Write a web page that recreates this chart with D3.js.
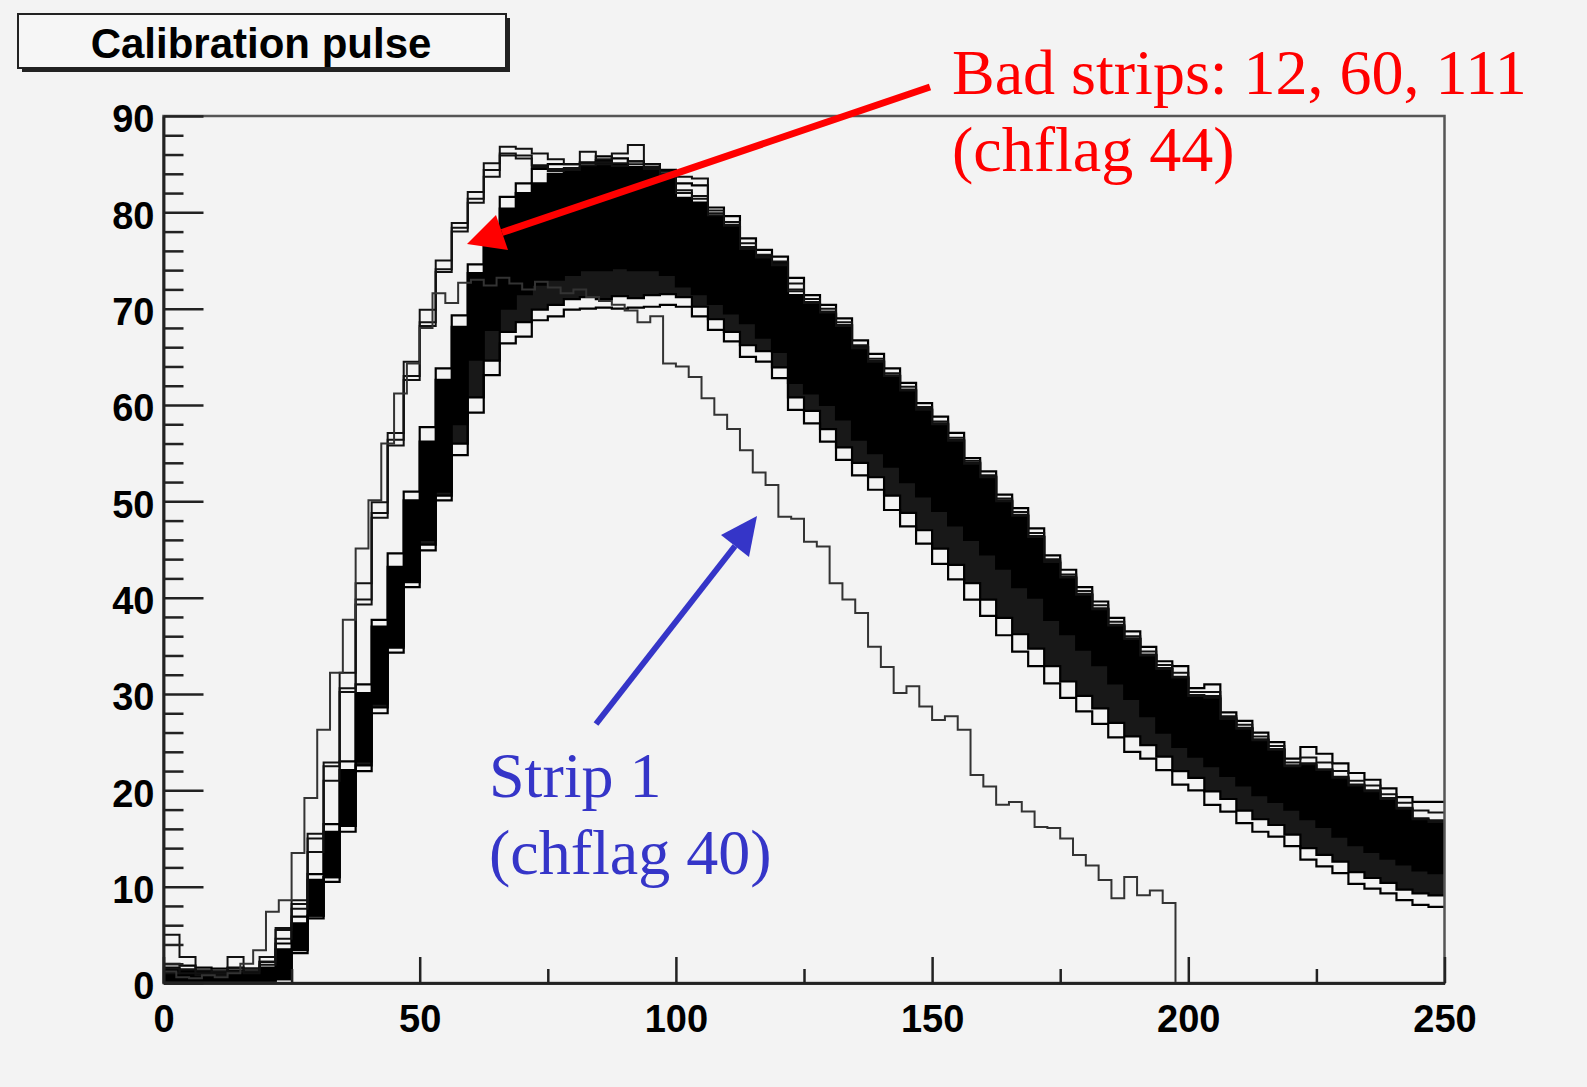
<!DOCTYPE html>
<html>
<head>
<meta charset="utf-8">
<script src="https://cdn.jsdelivr.net/npm/d3@7"></script>
<style>
  body { margin: 0; background: #f3f3f3; }
  svg { display: block; }
</style>
</head>
<body>
<script>
const width = 1587, height = 1087;

// 80 bins of 3.125 ns cover 0-250; strip 1 is read out on 80 bins of 2.5 ns
const binWidth = 3.125;
const strip1BinWidth = 2.5;

// envelope of the ~125 normal strips, read bin by bin
const bandTop = [2.0, 1.8, 1.6, 1.5, 1.6, 1.5, 2.2, 4.1, 6.9, 11.3,
  16.5, 23.0, 31.0, 37.7, 44.6, 51.0, 57.7, 63.8, 69.3, 74.6,
  77.5, 81.6, 83.0, 84.5, 85.0, 85.0, 85.2, 85.8, 85.6, 85.3,
  85.0, 84.4, 83.0, 82.8, 80.5, 79.6, 77.3, 76.1, 75.4, 73.2,
  71.4, 70.4, 69.0, 66.7, 65.3, 63.8, 62.3, 60.2, 58.8, 57.1,
  54.5, 53.1, 50.7, 49.3, 47.2, 44.4, 42.9, 41.1, 39.6, 37.9,
  36.5, 34.9, 33.4, 32.9, 30.6, 31.0, 28.1, 27.2, 26.0, 25.0,
  23.3, 24.5, 23.8, 22.8, 21.8, 21.1, 20.2, 19.3, 18.8, 18.8];
const coreTop = [1.6, 1.4, 1.3, 1.2, 1.3, 1.2, 1.6, 3.5, 6.2, 10.7,
  15.7, 22.1, 30.1, 37.0, 43.2, 50.1, 56.2, 62.6, 68.1, 73.7,
  76.4, 80.4, 82.0, 83.0, 84.0, 84.4, 84.7, 85.4, 85.0, 84.7,
  84.7, 84.0, 81.5, 81.0, 79.6, 78.5, 76.1, 75.5, 74.8, 71.4,
  70.5, 69.5, 68.3, 66.0, 64.5, 63.0, 61.5, 59.5, 58.0, 56.3,
  54.0, 52.5, 50.0, 48.5, 46.3, 43.6, 42.0, 40.3, 38.8, 37.0,
  35.7, 34.0, 32.6, 31.6, 29.8, 29.5, 27.3, 26.4, 25.2, 24.2,
  22.5, 22.6, 22.0, 21.2, 20.4, 19.8, 19.0, 18.0, 16.9, 16.6];
const coreBottom = [0.3, 0.3, 0.3, 0.3, 0.3, 0.3, 0.4, 0.6, 3.5, 7.0,
  11.0, 16.3, 23.0, 29.0, 35.0, 41.8, 46.0, 51.0, 58.0, 64.7,
  67.8, 70.0, 71.5, 72.5, 73.0, 73.5, 74.0, 74.0, 74.2, 74.0,
  74.0, 73.5, 72.3, 71.5, 70.5, 69.5, 68.5, 67.0, 65.5, 62.3,
  61.2, 60.0, 58.5, 56.4, 55.0, 53.6, 52.0, 50.5, 49.0, 47.5,
  46.0, 44.5, 43.0, 41.1, 40.0, 37.7, 36.2, 34.6, 33.0, 31.1,
  29.5, 27.7, 26.0, 24.5, 23.5, 22.5, 21.5, 20.5, 19.5, 18.8,
  18.0, 17.0, 16.2, 15.2, 14.3, 13.6, 12.9, 12.3, 11.7, 11.4];
const lowerMid = [0.1, 0.1, 0.1, 0.1, 0.1, 0.1, 0.2, 0.4, 3.4, 7.0,
  11.0, 16.3, 22.6, 28.6, 34.8, 41.6, 45.5, 50.6, 56.0, 60.8,
  64.6, 67.6, 68.6, 69.9, 70.4, 71.0, 71.2, 71.0, 71.3, 71.1,
  71.4, 71.5, 71.2, 70.2, 68.9, 67.6, 66.2, 65.6, 63.9, 60.8,
  59.4, 57.5, 55.6, 54.0, 52.5, 50.6, 48.8, 47.0, 45.1, 43.4,
  41.5, 39.8, 37.9, 36.2, 34.7, 32.9, 31.3, 29.8, 28.5, 27.0,
  25.6, 24.7, 23.5, 22.0, 21.3, 19.9, 19.1, 17.9, 17.0, 16.4,
  15.4, 14.0, 13.3, 12.6, 11.5, 10.9, 10.4, 9.7, 9.3, 9.1];
const bandBottom = [0.1, 0.1, 0.1, 0.1, 0.1, 0.1, 0.2, 0.4, 3.1, 6.7,
  10.5, 15.7, 22.0, 28.0, 34.3, 41.1, 44.9, 50.1, 54.8, 59.2,
  63.1, 66.4, 67.1, 68.8, 69.2, 69.9, 70.0, 70.1, 70.0, 70.1,
  70.2, 70.4, 70.2, 69.2, 67.8, 66.6, 65.0, 64.5, 62.8, 59.5,
  58.1, 56.2, 54.3, 52.7, 51.2, 49.1, 47.4, 45.6, 43.5, 41.9,
  39.8, 38.1, 36.1, 34.4, 32.9, 31.1, 29.6, 28.2, 26.9, 25.5,
  24.0, 23.3, 22.1, 20.6, 20.0, 18.5, 17.8, 16.6, 15.7, 15.2,
  14.2, 12.8, 12.1, 11.4, 10.3, 9.8, 9.3, 8.6, 8.1, 7.9];

// bad strips 12, 60, 111 (chflag 44)
const bad12 = [5.0, 2.7, 1.3, 1.0, 2.7, 1.5, 2.2, 5.7, 8.6, 15.5,
  22.9, 32.2, 41.5, 49.9, 57.1, 64.5, 69.9, 75.0, 78.9, 82.1,
  85.1, 86.8, 86.6, 86.1, 85.5, 85.0, 86.3, 85.5, 86.1, 87.0,
  85.0, 84.2, 83.7, 83.5, 80.2, 79.0, 76.8, 75.6, 74.9, 72.6,
  71.0, 70.0, 68.6, 66.2, 64.8, 63.3, 61.9, 59.8, 58.3, 56.6,
  54.2, 52.7, 50.3, 48.9, 46.7, 44.0, 42.4, 40.7, 39.2, 37.5,
  36.0, 34.4, 33.0, 32.2, 30.2, 30.2, 27.7, 26.8, 25.6, 24.6,
  22.9, 23.4, 22.9, 22.0, 21.0, 20.5, 19.6, 18.7, 17.9, 17.7];
const bad60 = [1.5, 1.0, 0.8, 1.2, 1.5, 1.2, 2.7, 5.5, 8.2, 15.0,
  22.5, 30.6, 39.8, 48.8, 56.4, 63.0, 68.6, 74.1, 78.4, 81.4,
  84.4, 86.1, 85.9, 84.9, 84.5, 84.4, 85.1, 85.2, 85.1, 85.3,
  84.7, 84.0, 82.3, 81.7, 79.9, 78.7, 76.4, 75.4, 74.6, 72.0,
  70.7, 69.7, 68.3, 66.0, 64.6, 63.1, 61.6, 59.6, 58.1, 56.4,
  54.0, 52.6, 50.1, 48.6, 46.4, 43.8, 42.2, 40.4, 38.9, 37.2,
  35.8, 34.1, 32.7, 31.8, 29.9, 29.8, 27.5, 26.5, 25.3, 24.3,
  22.6, 22.8, 22.2, 21.4, 20.6, 20.0, 19.2, 18.2, 17.1, 16.9];
const bad111 = [1.0, 1.4, 1.0, 0.8, 1.2, 1.0, 1.9, 4.6, 7.7, 13.6,
  21.0, 30.2, 39.3, 48.3, 55.8, 62.6, 68.2, 73.8, 78.0, 81.0,
  83.7, 85.9, 85.6, 84.7, 84.3, 84.6, 84.9, 85.0, 84.8, 85.0,
  84.5, 83.8, 82.0, 81.4, 79.7, 78.6, 76.2, 75.3, 74.5, 71.8,
  70.6, 69.6, 68.2, 65.9, 64.5, 63.0, 61.5, 59.5, 58.0, 56.3,
  53.9, 52.5, 50.0, 48.5, 46.3, 43.7, 42.1, 40.3, 38.8, 37.1,
  35.7, 34.0, 32.6, 31.7, 29.8, 29.6, 27.4, 26.4, 25.2, 24.2,
  22.5, 22.7, 22.1, 21.3, 20.5, 19.9, 19.1, 18.1, 17.0, 16.7];

// strip 1 (chflag 40)
const strip1 = [1.2, 0.6, 0.5, 0.8, 0.6, 1.0, 2.0, 3.4, 7.4, 8.6,
  13.5, 19.2, 26.3, 32.2, 37.7, 45.1, 50.1, 56.0, 61.2, 64.3,
  68.0, 71.6, 70.6, 72.7, 73.0, 72.4, 73.2, 72.6, 72.0, 72.8,
  72.2, 71.6, 72.0, 71.2, 70.8, 70.4, 69.8, 68.6, 69.2, 64.3,
  64.0, 62.9, 60.7, 59.0, 57.5, 55.3, 53.0, 51.7, 48.4, 48.2,
  45.8, 45.3, 41.5, 39.8, 38.4, 34.9, 32.8, 30.1, 30.8, 28.7,
  27.3, 27.7, 26.3, 21.6, 20.4, 18.5, 18.8, 17.8, 16.2, 16.1,
  15.0, 13.3, 12.2, 10.7, 8.8, 11.0, 9.1, 9.6, 8.3, 0];

const xTicks = [0, 50, 100, 150, 200, 250];
const xMinorTicks = [25, 75, 125, 175, 225];
const yTicks = [0, 10, 20, 30, 40, 50, 60, 70, 80, 90];
const yMinorTicks = d3.range(0, 91, 2).filter(v => v % 10 !== 0);

const titleText = 'Calibration pulse';
const badLabel = ['Bad strips: 12, 60, 111', '(chflag 44)'];
const strip1Label = ['Strip 1', '(chflag 40)'];

const margin = {left: 163.5, right: 1444.5, top: 116, bottom: 983};

const svg = d3.select('body')
              .append('svg')
              .attr('width', width)
              .attr('height', height);

svg.append('rect')
   .attr('width', width)
   .attr('height', height)
   .attr('fill', '#f3f3f3');

const x = d3.scaleLinear().domain([0, 250]).range([margin.left, margin.right]);
const y = d3.scaleLinear().domain([0, 90]).range([margin.bottom, margin.top]);

svg.append('clipPath').attr('id', 'plot')
   .append('rect')
   .attr('x', margin.left).attr('y', margin.top)
   .attr('width', margin.right - margin.left)
   .attr('height', margin.bottom - margin.top);

// histogram helpers: each value spans one bin, ROOT style
function steps(values, w) {
  let pts = values.map((v, i) => [i * w, v]);
  pts.push([values.length * w, values[values.length - 1]]);
  return pts;
}
function pairSteps(lo, hi, w) {
  let pts = lo.map((v, i) => ({x: i * w, lo: v, hi: hi[i]}));
  pts.push({x: lo.length * w, lo: lo[lo.length - 1], hi: hi[hi.length - 1]});
  return pts;
}

const line = d3.line()
               .x(d => x(d[0]))
               .y(d => y(d[1]))
               .curve(d3.curveStepAfter);
const area = d3.area()
               .x(d => x(d.x))
               .y0(d => y(d.lo))
               .y1(d => y(d.hi))
               .curve(d3.curveStepAfter);

const hist = svg.append('g').attr('clip-path', 'url(#plot)');

// lower group of strips: dense but not fully overlapping
hist.append('path')
    .attr('d', area(pairSteps(lowerMid, coreBottom, binWidth)))
    .attr('fill', '#000')
    .attr('fill-opacity', 0.9);

// core of the band: all lines overlap into solid black
hist.append('path')
    .attr('d', area(pairSteps(coreBottom, coreTop, binWidth)))
    .attr('fill', '#000');

[bandBottom, lowerMid, coreBottom, coreTop, bandTop].forEach(s => {
  hist.append('path')
      .attr('d', line(steps(s, binWidth)))
      .attr('fill', 'none')
      .attr('stroke', '#000')
      .attr('stroke-width', 2.2);
});

[bad12, bad60, bad111].forEach(s => {
  hist.append('path')
      .attr('d', line(steps(s, binWidth)))
      .attr('fill', 'none')
      .attr('stroke', '#111')
      .attr('stroke-width', 2);
});

hist.append('path')
    .attr('d', line(steps(strip1, strip1BinWidth)))
    .attr('fill', 'none')
    .attr('stroke', '#333')
    .attr('stroke-width', 2);

// frame
svg.append('rect')
   .attr('x', margin.left).attr('y', margin.top)
   .attr('width', margin.right - margin.left)
   .attr('height', margin.bottom - margin.top)
   .attr('fill', 'none')
   .attr('stroke', '#555')
   .attr('stroke-width', 2.5);

// axes, ticks pointing into the frame
const yAxis = svg.append('g')
   .attr('transform', `translate(${margin.left},0)`)
   .call(d3.axisLeft(y).tickValues(yTicks).tickSizeInner(-40).tickSizeOuter(0).tickPadding(9));
svg.append('g')
   .attr('transform', `translate(${margin.left},0)`)
   .call(d3.axisLeft(y).tickValues(yMinorTicks).tickSizeInner(-20).tickSizeOuter(0).tickFormat(''));

const xAxis = svg.append('g')
   .attr('transform', `translate(0,${margin.bottom})`)
   .call(d3.axisBottom(x).tickValues(xTicks).tickSizeInner(-26).tickSizeOuter(0).tickPadding(22));
svg.append('g')
   .attr('transform', `translate(0,${margin.bottom})`)
   .call(d3.axisBottom(x).tickValues(xMinorTicks).tickSizeInner(-14).tickSizeOuter(0).tickFormat(''));

svg.selectAll('.domain').attr('stroke', '#222').attr('stroke-width', 2.5);
svg.selectAll('.tick line').attr('stroke', '#222').attr('stroke-width', 2.5);
svg.selectAll('.tick text')
   .attr('fill', '#000')
   .style('font-family', '"Liberation Sans", Arial, sans-serif')
   .style('font-weight', 'bold')
   .style('font-size', '38px');
yAxis.selectAll('.tick text').attr('dy', '0.42em');

// title box with ROOT drop shadow
svg.append('rect')
   .attr('x', 22).attr('y', 18).attr('width', 488).attr('height', 54)
   .attr('fill', '#222');
svg.append('rect')
   .attr('x', 18).attr('y', 14).attr('width', 488).attr('height', 54)
   .attr('fill', '#f6f6f6')
   .attr('stroke', '#222')
   .attr('stroke-width', 2);
svg.append('text')
   .attr('x', 261).attr('y', 58)
   .attr('text-anchor', 'middle')
   .style('font-family', '"Liberation Sans", Arial, sans-serif')
   .style('font-weight', 'bold')
   .style('font-size', '42px')
   .text(titleText);

// annotations
function arrow(x1, y1, tip, c1, c2, color, w) {
  let bx = (c1[0] + c2[0]) / 2, by = (c1[1] + c2[1]) / 2;
  svg.append('line')
     .attr('x1', x1).attr('y1', y1).attr('x2', bx).attr('y2', by)
     .attr('stroke', color).attr('stroke-width', w);
  svg.append('path')
     .attr('d', `M${tip[0]},${tip[1]}L${c1[0]},${c1[1]}L${c2[0]},${c2[1]}Z`)
     .attr('fill', color);
}
arrow(930, 87, [467, 244], [496, 215], [508, 250], '#ff0000', 7);
arrow(596, 724, [757, 516], [721, 535], [749, 557], '#3535c8', 6);

function label(lines, x0, y0, color) {
  lines.forEach((t, i) => {
    svg.append('text')
       .attr('x', x0).attr('y', y0 + i * 77)
       .attr('fill', color)
       .style('font-family', '"Liberation Serif", "Times New Roman", serif')
       .style('font-size', '64px')
       .text(t);
  });
}
label(badLabel, 952, 94, '#ff0000');
label(strip1Label, 489, 797, '#3535c8');
</script>
</body>
</html>
